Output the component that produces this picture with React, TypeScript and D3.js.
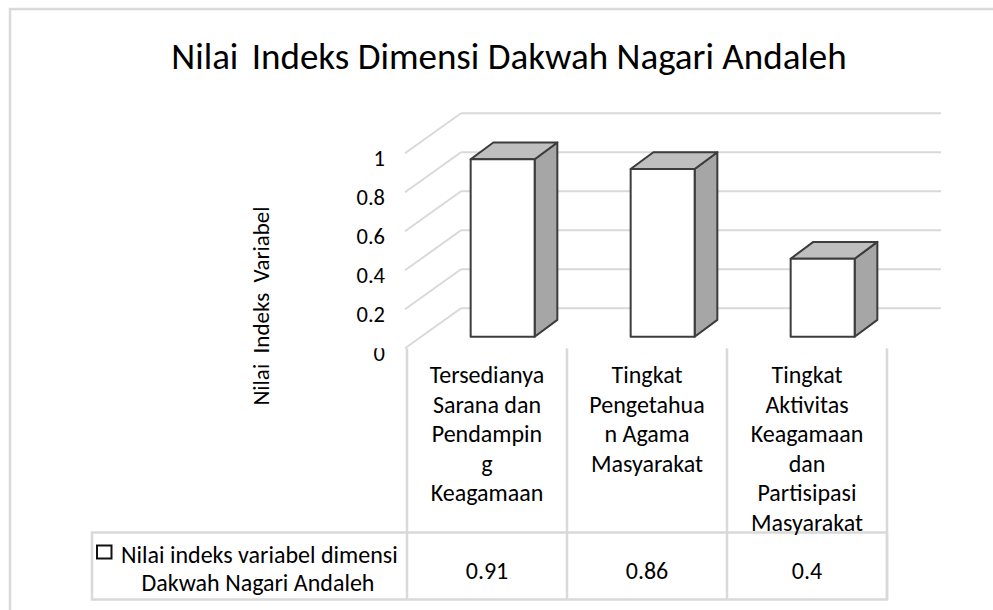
import React from 'react';
import * as d3 from 'd3';

// chart data
const titleFirst = 'Nilai';
const titleRest = 'Indeks Dimensi Dakwah Nagari Andaleh';
const yTitle = 'Nilai  Indeks  Variabel';
const categories = [
  ['Tersedianya', 'Sarana dan', 'Pendampin', 'g', 'Keagamaan'],
  ['Tingkat', 'Pengetahua', 'n Agama', 'Masyarakat'],
  ['Tingkat', 'Aktivitas', 'Keagamaan', 'dan', 'Partisipasi', 'Masyarakat'],
];
const values = [0.91, 0.86, 0.4];
const valueLabels = ['0.91', '0.86', '0.4'];
const yTicks = [0, 0.2, 0.4, 0.6, 0.8, 1];
const yTickLabels = ['0', '0.2', '0.4', '0.6', '0.8', '1'];
const seriesName = ['Nilai indeks variabel dimensi', 'Dakwah Nagari Andaleh'];

const width = 993;
const height = 610;
const font = 'Carlito, Calibri, Lato, sans-serif';
const gridColor = '#d9d9d9';

// 3d floor geometry
const x0 = 407;
const plotW = 480;
const depthX = 54;
const depthY = -40;
const barFront = 0.29;
const barBack = 0.71;

const App = () => {
  const keys = categories.map((c, i) => String(i));

  // columns of the data table
  const colScale = d3.scaleBand().domain(keys).range([x0, x0 + plotW]);
  // bars inside the columns
  const barScale = d3.scaleBand().domain(keys).range([x0, x0 + plotW])
    .paddingInner(0.6).paddingOuter(0.3);
  const yScale = d3.scaleLinear().domain([0, 1]).range([348.3, 153.3]);

  const bw = barScale.bandwidth();
  const ddx = (barBack - barFront) * depthX;
  const ddy = (barBack - barFront) * depthY;
  const lineH = 29.5;
  const colMid = (i: number) => (colScale(keys[i]) as number) + colScale.bandwidth() / 2;

  return (
    <svg width={width} height={height} style={{ position: 'absolute', left: 0, top: 0 }}
      fontFamily={font}>
      <defs>
        <clipPath id="zeroClip">
          <rect x={300} y={yScale(0)} width={100} height={40} />
        </clipPath>
      </defs>
      <rect x={0} y={0} width={width} height={height} fill="#fff" />
      <rect x={10} y={9} width={1100} height={800} fill="none" stroke={gridColor} strokeWidth={2.5} />

      <text x={509} y={56} fontSize={37} textAnchor="middle" dominantBaseline="central">
        {titleFirst}<tspan dx={5}> {titleRest}</tspan>
      </text>

      {/* walls */}
      <g stroke={gridColor} strokeWidth={2} fill="none">
        {yTicks.map((t) => (
          <g key={t}>
            <line x1={x0 - 2} y1={yScale(t)} x2={x0 + depthX} y2={yScale(t) + depthY} />
            <line x1={x0 + depthX} y1={yScale(t) + depthY} x2={x0 + depthX + plotW} y2={yScale(t) + depthY} />
          </g>
        ))}
      </g>

      {/* y tick labels */}
      <g fontSize={22.5} textAnchor="end">
        {yTicks.map((t, i) => (
          <text key={t} x={385} y={yScale(t) + 5} dominantBaseline="central"
            clipPath={t === 0 ? 'url(#zeroClip)' : undefined}>{yTickLabels[i]}</text>
        ))}
      </g>

      <text transform={`translate(261,306) rotate(-90)`} fontSize={23} textAnchor="middle"
        dominantBaseline="central" style={{ whiteSpace: 'pre' }}>{yTitle}</text>

      {/* 3d bars */}
      {values.map((v, i) => {
        const xf = (barScale(keys[i]) as number) + barFront * depthX;
        const yb = yScale(0) + barFront * depthY;
        const yt = yScale(v) + barFront * depthY;
        const top = [[xf, yt], [xf + bw, yt], [xf + bw + ddx, yt + ddy], [xf + ddx, yt + ddy]];
        const side = [[xf + bw, yt], [xf + bw + ddx, yt + ddy], [xf + bw + ddx, yb + ddy], [xf + bw, yb]];
        return (
          <g key={i} stroke="#3c3c3c" strokeWidth={2} strokeLinejoin="round">
            <polygon points={side.map((p) => p.join(',')).join(' ')} fill="#a6a6a6" />
            <polygon points={top.map((p) => p.join(',')).join(' ')} fill="#bfbfbf" />
            <rect x={xf} y={yt} width={bw} height={yb - yt} fill="#fff" />
          </g>
        );
      })}

      {/* data table */}
      <g stroke={gridColor} strokeWidth={2.5} fill="none">
        {[...keys.map((k) => colScale(k) as number), x0 + plotW].map((x, i) => (
          <line key={i} x1={x} y1={yScale(0)} x2={x} y2={599.5} />
        ))}
        <rect x={92} y={532.5} width={x0 + plotW - 92} height={67} />
      </g>

      <g fontSize={24} textAnchor="middle">
        {categories.map((lines, i) => (
          <text key={i} x={colMid(i)} y={374} dominantBaseline="central">
            {lines.map((l, j) => (
              <tspan key={j} x={colMid(i)} y={374 + j * lineH}>{l}</tspan>
            ))}
          </text>
        ))}
        {valueLabels.map((l, i) => (
          <text key={i} x={colMid(i)} y={570} dominantBaseline="central">{l}</text>
        ))}
      </g>

      {/* legend key */}
      <rect x={97} y={545.5} width={14.5} height={13} fill="#fff" stroke="#111" strokeWidth={2} />
      <text x={121} y={554} fontSize={24} dominantBaseline="central">{seriesName[0]}</text>
      <text x={258} y={582.5} fontSize={24} textAnchor="middle" dominantBaseline="central">{seriesName[1]}</text>
    </svg>
  );
};

export default App;
